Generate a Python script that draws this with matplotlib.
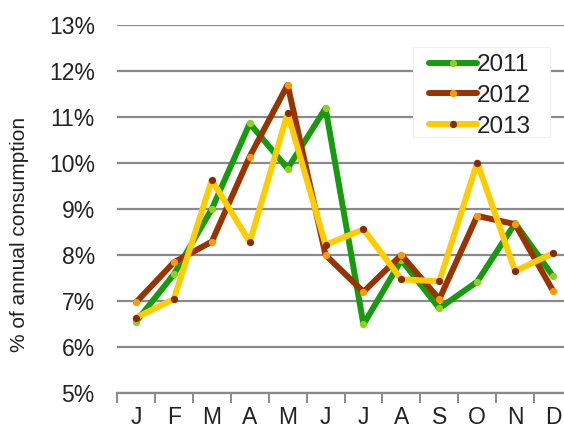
import matplotlib.pyplot as plt
from matplotlib.patches import Rectangle
from matplotlib.ticker import FixedLocator, FuncFormatter
import numpy as np

plt.rcParams['font.family'] = ['Liberation Sans', 'DejaVu Sans']

months = ["J", "F", "M", "A", "M", "J", "J", "A", "S", "O", "N", "D"]
years = ["2011", "2012", "2013"]
share_2011 = [6.55, 7.58, 9.00, 10.86, 9.88, 11.19, 6.49, 7.89, 6.84, 7.42, 8.69, 7.54]
share_2012 = [6.97, 7.84, 8.29, 10.14, 11.70, 8.00, 7.20, 8.00, 7.04, 8.85, 8.67, 7.22]
share_2013 = [6.64, 7.04, 9.63, 8.28, 11.08, 8.22, 8.56, 7.47, 7.43, 10.01, 7.65, 8.04]

line_colors = ["#169b0c", "#993300", "#ffcc00"]
marker_colors = ["#8fd11c", "#ff9900", "#8b2a00"]

fig = plt.figure(figsize=(5.64, 4.29), dpi=100)
ax = fig.add_axes([117 / 564, 1 - 393 / 429, 455 / 564, 368 / 429])

x = np.arange(len(months))
for vals, year, lc, mc in zip([share_2011, share_2012, share_2013], years, line_colors, marker_colors):
    ax.plot(x, vals, color=lc, lw=4.3, marker="o", ms=4.2, mfc=mc, mec=mc,
            solid_joinstyle="round", solid_capstyle="round", label=year, zorder=3)

ax.set_xlim(-0.5, 11.5)
ax.set_ylim(5, 13)
ax.set_yticks(np.arange(5, 14, 1))
ax.yaxis.set_major_formatter(FuncFormatter(lambda v, p: f"{v:.0f}%"))
ax.set_xticks(x)
ax.set_xticklabels(months)
ax.xaxis.set_minor_locator(FixedLocator(np.arange(-0.5, 12, 1)))

ax.grid(axis="y", color="#8a8a8a", lw=1.6)
ax.set_axisbelow(True)
for s in ["left", "right", "top"]:
    ax.spines[s].set_visible(False)
ax.spines["bottom"].set_color("#8a8a8a")
ax.spines["bottom"].set_linewidth(1.6)

ax.tick_params(axis="y", length=0, pad=16, labelsize=16.5, labelcolor="#222222")
ax.tick_params(axis="x", which="major", length=0, pad=9, labelsize=16.5, labelcolor="#222222")
ax.tick_params(axis="x", which="minor", length=7, width=1.4, color="#8a8a8a")

fig.text(20 / 564, 1 - 234 / 429, "% of annual consumption", rotation=90,
         ha="center", va="center", fontsize=15, color="#222222")

# white legend box hiding the gridlines
box = Rectangle((413 / 564, 1 - 137 / 429), 137 / 564, 90 / 429, transform=fig.transFigure,
                facecolor="white", edgecolor="#f0f0f0", lw=0.8, zorder=2)
ax.add_patch(box)

leg = ax.legend(loc="upper left", bbox_to_anchor=(429 / 564, 1 - 54 / 429),
                bbox_transform=fig.transFigure, fontsize=17.5, frameon=False,
                handlelength=1.97, handletextpad=0.0, labelspacing=0.36,
                borderpad=0, borderaxespad=0)
for t in leg.get_texts():
    t.set_color("#222222")

fig.savefig("out.png", dpi=100)
